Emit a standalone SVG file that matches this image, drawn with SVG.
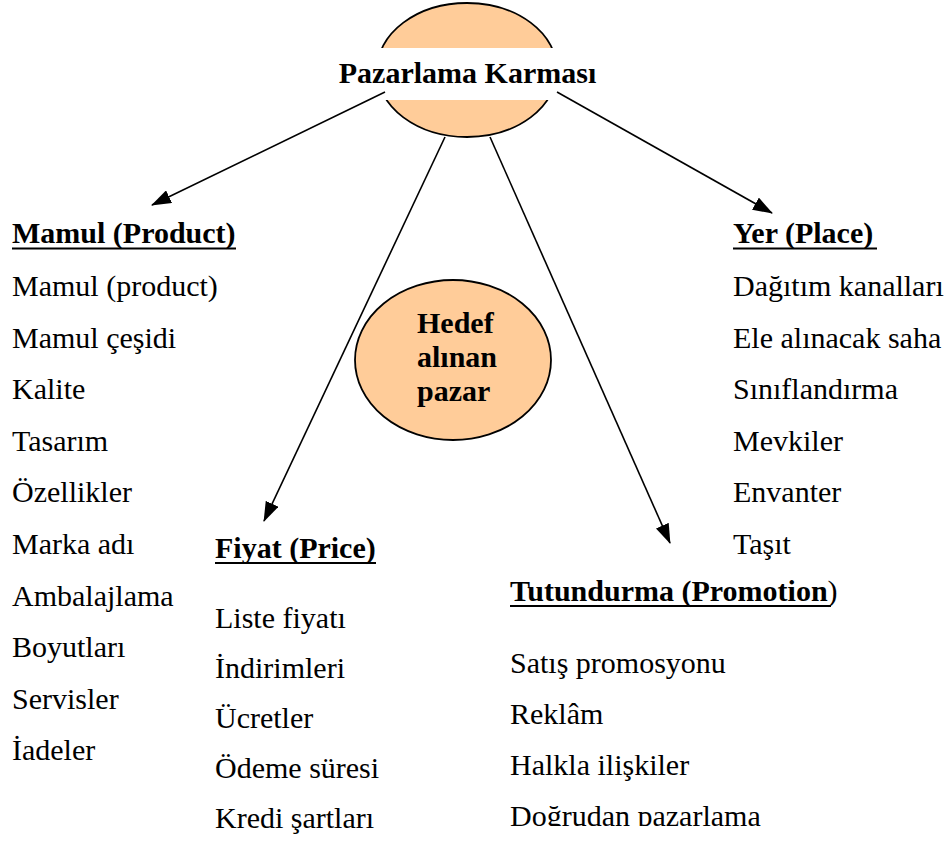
<svg xmlns="http://www.w3.org/2000/svg" width="951" height="845" viewBox="0 0 951 845">
  <style>
    text { font-family: "Liberation Serif", "Times New Roman", serif; font-size: 30px; fill: #000; }
    .b { font-weight: bold; }
    .bubble { fill: #FFCC99; stroke: #000; stroke-width: 1.8; }
    .conn { stroke: #000; stroke-width: 1.6; fill: none; marker-end: url(#arrow); }
    .ul { stroke: #000; stroke-width: 2.2; }
  </style>
  <defs>
    <marker id="arrow" markerUnits="userSpaceOnUse" markerWidth="20" markerHeight="14" refX="19" refY="7" orient="auto">
      <path d="M0,0 L20,7 L0,14 z" fill="#000"/>
    </marker>
    <clipPath id="pageEdge">
      <rect x="0" y="0" width="951" height="826"/>
    </clipPath>
  </defs>
  <rect width="951" height="845" fill="#fff"/>

  <!-- central node: marketing mix -->
  <g id="node-karma">
    <ellipse class="bubble" cx="467" cy="70" rx="90" ry="67"/>
    <rect x="330" y="48" width="275" height="52" fill="#fff"/>
    <text x="467.5" y="83" text-anchor="middle" class="b">Pazarlama Karması</text>
  </g>

  <!-- target market -->
  <g id="node-hedef">
    <ellipse class="bubble" cx="453" cy="360" rx="98" ry="80"/>
    <text x="417" y="333" class="b">Hedef</text>
    <text x="417" y="367" class="b">alınan</text>
    <text x="417" y="401" class="b">pazar</text>
  </g>

  <!-- connectors -->
  <g id="connectors">
    <line class="conn" x1="385" y1="92" x2="152" y2="205"/>
    <line class="conn" x1="557" y1="92" x2="772" y2="213"/>
    <line class="conn" x1="445" y1="137" x2="264" y2="521"/>
    <line class="conn" x1="490" y1="137" x2="670" y2="543"/>
  </g>

  <!-- product -->
  <g id="node-mamul">
    <text x="12" y="243" class="b">Mamul (Product)</text>
    <line class="ul" x1="12" y1="248.5" x2="236" y2="248.5"/>
    <text x="12" y="296">Mamul (product)</text>
    <text x="12" y="347.6">Mamul çeşidi</text>
    <text x="12" y="399.2">Kalite</text>
    <text x="12" y="450.8">Tasarım</text>
    <text x="12" y="502.4">Özellikler</text>
    <text x="12" y="554">Marka adı</text>
    <text x="12" y="605.6">Ambalajlama</text>
    <text x="12" y="657.2">Boyutları</text>
    <text x="12" y="708.8">Servisler</text>
    <text x="12" y="760.4">İadeler</text>
  </g>

  <!-- place -->
  <g id="node-yer">
    <text x="733" y="243" class="b">Yer (Place)</text>
    <line class="ul" x1="733" y1="248.5" x2="877" y2="248.5"/>
    <text x="733" y="296">Dağıtım kanalları</text>
    <text x="733" y="347.6">Ele alınacak saha</text>
    <text x="733" y="399.2">Sınıflandırma</text>
    <text x="733" y="450.8">Mevkiler</text>
    <text x="733" y="502.4">Envanter</text>
    <text x="733" y="554">Taşıt</text>
  </g>

  <!-- price -->
  <g id="node-fiyat">
    <text x="215" y="558" class="b">Fiyat (Price)</text>
    <line class="ul" x1="215" y1="563" x2="376" y2="563"/>
    <text x="215" y="628">Liste fiyatı</text>
    <text x="215" y="678">İndirimleri</text>
    <text x="215" y="728">Ücretler</text>
    <text x="215" y="778">Ödeme süresi</text>
    <text x="215" y="828">Kredi şartları</text>
  </g>

  <!-- promotion -->
  <g id="node-tutundurma">
    <text x="510" y="601"><tspan class="b">Tutundurma (Promotion</tspan>)</text>
    <line class="ul" x1="510" y1="606" x2="831" y2="606"/>
    <text x="510" y="673">Satış promosyonu</text>
    <text x="510" y="724">Reklâm</text>
    <text x="510" y="775">Halkla ilişkiler</text>
    <text x="510" y="826" clip-path="url(#pageEdge)">Doğrudan pazarlama</text>
  </g>
</svg>
